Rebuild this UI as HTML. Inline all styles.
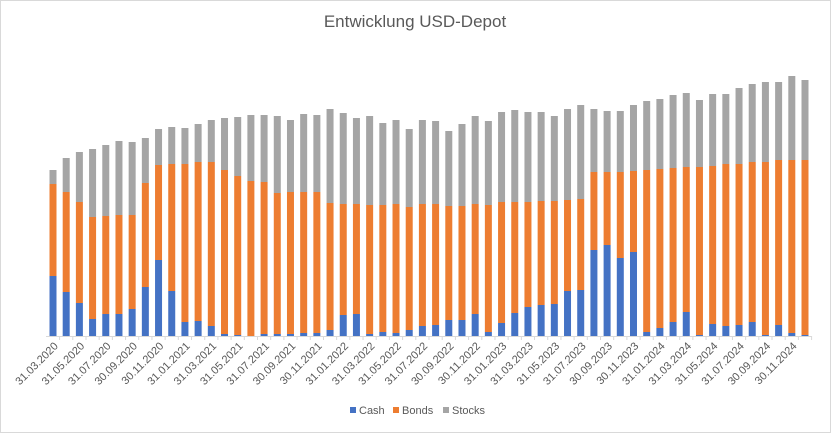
<!DOCTYPE html>
<html><head><meta charset="utf-8">
<style>
body{margin:0;background:#fff;}
svg{display:block;font-family:"Liberation Sans",sans-serif;}
</style></head>
<body>
<svg id="chart" width="831" height="433" viewBox="0 0 831 433">
<rect x="0.5" y="0.5" width="830" height="432" fill="#fff" stroke="#d9d9d9"/>
<text x="415" y="27" text-anchor="middle" font-size="17" fill="#595959">Entwicklung USD-Depot</text>
<g id="bars"></g>
<g id="labels"></g>
<g font-size="11" fill="#595959">
<g><rect x="350" y="407" width="6" height="6" fill="#4472c4"/><text x="359" y="414">Cash</text></g>
<g><rect x="393" y="407" width="6" height="6" fill="#ed7d31"/><text x="402" y="414">Bonds</text></g>
<g><rect x="443" y="407" width="6" height="6" fill="#a5a5a5"/><text x="452" y="414">Stocks</text></g>
</g>
</svg>
<script>
const categories=["31.03.2020","30.04.2020","31.05.2020","30.06.2020","31.07.2020","31.08.2020","30.09.2020","31.10.2020","30.11.2020","31.12.2020",
"31.01.2021","28.02.2021","31.03.2021","30.04.2021","31.05.2021","30.06.2021","31.07.2021","31.08.2021","30.09.2021","31.10.2021","30.11.2021","31.12.2021",
"31.01.2022","28.02.2022","31.03.2022","30.04.2022","31.05.2022","30.06.2022","31.07.2022","31.08.2022","30.09.2022","31.10.2022","30.11.2022","31.12.2022",
"31.01.2023","28.02.2023","31.03.2023","30.04.2023","31.05.2023","30.06.2023","31.07.2023","31.08.2023","30.09.2023","31.10.2023","30.11.2023","31.12.2023",
"31.01.2024","29.02.2024","31.03.2024","30.04.2024","31.05.2024","30.06.2024","31.07.2024","31.08.2024","30.09.2024","31.10.2024","30.11.2024","31.12.2024"];
const cash=[60,44,33,17,22,22,27,49,76,45,14,15,10,2,1,0,2,2,2,3,3,6,21,22,2,4,3,6,10,11,16,16,22,4,13,23,29,31,32,45,46,86,91,78,84,4,8,14,24,1,12,10,11,14,1,11,3,1];
const bonds=[92,100,101,102,98,99,94,104,95,127,158,159,164,164,159,155,152,141,142,141,141,127,111,110,129,127,129,123,122,121,114,114,110,127,121,111,105,104,103,91,91,78,73,86,81,162,159,154,145,168,158,162,161,160,173,165,173,175];
const stocks=[14,34,50,68,71,74,73,45,36,37,36,38,42,52,59,66,67,77,72,78,77,94,91,86,89,82,84,78,84,83,75,82,88,84,90,92,90,89,85,91,94,63,61,61,66,69,70,73,74,67,72,70,76,78,80,78,84,80];
const NS="http://www.w3.org/2000/svg";
const base=336, x0=53, x1=805, bw=7;
const yScale=v=>v*1.0;
const xPos=i=>x0+(x1-x0)*i/(categories.length-1);
const bars=document.getElementById('bars'), labels=document.getElementById('labels');
const axis=document.createElementNS(NS,'line');
axis.setAttribute('x1',46);axis.setAttribute('x2',812);axis.setAttribute('y1',base+0.5);axis.setAttribute('y2',base+0.5);axis.setAttribute('stroke','#d9d9d9');


bars.appendChild(axis);
const series=[["cash",cash,"#4472c4"],["bonds",bonds,"#ed7d31"],["stocks",stocks,"#a5a5a5"]];
categories.forEach((c,i)=>{
  let y=base;
  series.forEach(([n,arr,col])=>{
    const h=yScale(arr[i]); y-=h;
    const r=document.createElementNS(NS,'rect');
    r.setAttribute('x',xPos(i)-bw/2);r.setAttribute('y',y);r.setAttribute('width',bw);r.setAttribute('height',h);r.setAttribute('fill',col);
    
    
    bars.appendChild(r);
  });
  const tk=document.createElementNS(NS,'line');
  const tx=xPos(i)+(x1-x0)/(categories.length-1)/2;
  tk.setAttribute('x1',tx);tk.setAttribute('x2',tx);tk.setAttribute('y1',base);tk.setAttribute('y2',base+4);tk.setAttribute('stroke','#d9d9d9');
  
  
  bars.appendChild(tk);
  if(i%2===0){
    const t=document.createElementNS(NS,'text');
    const lx=xPos(i)+3, ly=base+8;
    t.setAttribute('x',lx);t.setAttribute('y',ly);t.setAttribute('text-anchor','end');t.setAttribute('font-size','11');t.setAttribute('fill','#595959');
    t.setAttribute('transform','rotate(-45 '+lx+' '+ly+')');
    t.setAttribute('dy','0.35em');
    t.textContent=c;
    
    
    labels.appendChild(t);
  }
});
</script>
</body></html>
